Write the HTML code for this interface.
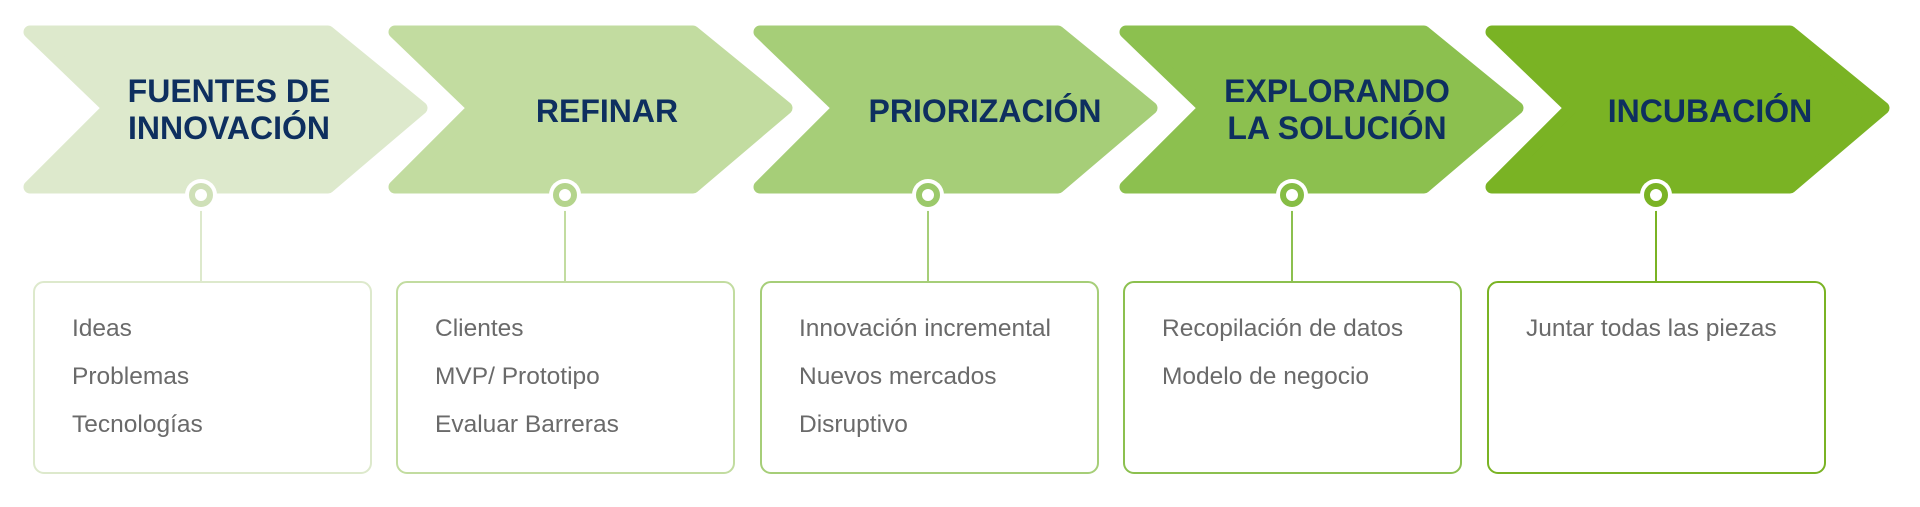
<!DOCTYPE html>
<html><head><meta charset="utf-8"><style>
html,body{margin:0;padding:0;background:#fff;width:1920px;height:507px;overflow:hidden}
svg{display:block}
.h{font-family:"Liberation Sans",Arial,sans-serif;font-weight:bold;font-size:32px;fill:#0e2f5f;text-anchor:middle}
.t{font-family:"Liberation Sans",Arial,sans-serif;font-size:24.5px;fill:#6a6a6a}
</style></head><body>
<svg width="1920" height="507" viewBox="0 0 1920 507" xmlns="http://www.w3.org/2000/svg">
<defs>
<g id="chev"><path d="M8 32 L306 32 L399 108 L306 187 L8 187 L87 108 Z" stroke-linejoin="round" stroke-width="13"/></g>
</defs>
<g>
<use href="#chev" x="22" y="0" fill="#dde9cc" stroke="#dde9cc"/>
<use href="#chev" x="387" y="0" fill="#c2dca0" stroke="#c2dca0"/>
<use href="#chev" x="752" y="0" fill="#a6ce78" stroke="#a6ce78"/>
<use href="#chev" x="1118" y="0" fill="#8cc04f" stroke="#8cc04f"/>
<use href="#chev" x="1484" y="0" fill="#7ab324" stroke="#7ab324"/>
</g>
<text class="h" x="229" y="102">FUENTES DE</text>
<text class="h" x="229" y="139">INNOVACIÓN</text>
<text class="h" x="607" y="122">REFINAR</text>
<text class="h" x="985" y="122">PRIORIZACIÓN</text>
<text class="h" x="1337" y="102">EXPLORANDO</text>
<text class="h" x="1337" y="139">LA SOLUCIÓN</text>
<text class="h" x="1710" y="122">INCUBACIÓN</text>
<g stroke-width="2" fill="#fff">
<line x1="201" y1="200" x2="201" y2="281" stroke="#dde9cc"/>
<line x1="565" y1="200" x2="565" y2="281" stroke="#c2dca0"/>
<line x1="928" y1="200" x2="928" y2="281" stroke="#a6ce78"/>
<line x1="1292" y1="200" x2="1292" y2="281" stroke="#8cc04f"/>
<line x1="1656" y1="200" x2="1656" y2="281" stroke="#7ab324"/>
<circle cx="201" cy="195" r="16" stroke="none"/>
<circle cx="565" cy="195" r="16" stroke="none"/>
<circle cx="928" cy="195" r="16" stroke="none"/>
<circle cx="1292" cy="195" r="16" stroke="none"/>
<circle cx="1656" cy="195" r="16" stroke="none"/>
<circle cx="201" cy="195" r="9" stroke="#cfe0b8" stroke-width="6"/>
<circle cx="565" cy="195" r="9" stroke="#b4d48c" stroke-width="6"/>
<circle cx="928" cy="195" r="9" stroke="#9bc96a" stroke-width="6"/>
<circle cx="1292" cy="195" r="9" stroke="#86bd45" stroke-width="6"/>
<circle cx="1656" cy="195" r="9" stroke="#7ab324" stroke-width="6"/>
</g>
<g fill="#fff" stroke-width="2">
<rect x="34" y="282" width="337" height="191" rx="10" stroke="#dde9cc"/>
<rect x="397" y="282" width="337" height="191" rx="10" stroke="#c2dca0"/>
<rect x="761" y="282" width="337" height="191" rx="10" stroke="#a6ce78"/>
<rect x="1124" y="282" width="337" height="191" rx="10" stroke="#8cc04f"/>
<rect x="1488" y="282" width="337" height="191" rx="10" stroke="#7ab324"/>
</g>
<text class="t" x="72" y="336">Ideas</text>
<text class="t" x="72" y="384">Problemas</text>
<text class="t" x="72" y="432">Tecnologías</text>
<text class="t" x="435" y="336">Clientes</text>
<text class="t" x="435" y="384">MVP/ Prototipo</text>
<text class="t" x="435" y="432">Evaluar Barreras</text>
<text class="t" x="799" y="336">Innovación incremental</text>
<text class="t" x="799" y="384">Nuevos mercados</text>
<text class="t" x="799" y="432">Disruptivo</text>
<text class="t" x="1162" y="336">Recopilación de datos</text>
<text class="t" x="1162" y="384">Modelo de negocio</text>
<text class="t" x="1526" y="336">Juntar todas las piezas</text>
</svg>
</body></html>
